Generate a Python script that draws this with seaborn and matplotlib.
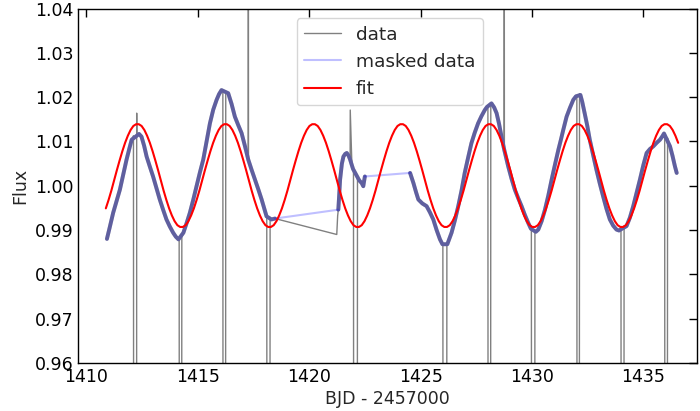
import numpy as np
import pandas as pd
import matplotlib
matplotlib.use("Agg")
import matplotlib.pyplot as plt
import seaborn as sns
from matplotlib.lines import Line2D
from matplotlib.ticker import FormatStrFormatter, MultipleLocator

# ---------------- data ----------------
# masked (out-of-eclipse) light curve, BJD - 2457000
masked_t = [
    1410.93, 1411.05, 1411.21, 1411.36, 1411.51, 1411.66, 1411.81, 1411.93, 1412.04, 1412.37,
    1412.48, 1412.60, 1412.71, 1412.85, 1413.00, 1413.15, 1413.30, 1413.45, 1413.60, 1413.75,
    1413.90, 1414.02, 1414.14, 1414.36, 1414.50, 1414.65, 1414.80, 1414.95, 1415.10, 1415.25,
    1415.40, 1415.55, 1415.70, 1415.85, 1415.96, 1416.07, 1416.37, 1416.52, 1416.67, 1416.82,
    1416.97, 1417.12, 1417.27, 1417.42, 1417.57, 1417.72, 1417.87, 1417.98, 1418.09, 1418.31,
    1418.47,
    1421.31, 1421.39, 1421.47, 1421.54, 1421.62, 1421.69, 1421.77, 1421.84, 1421.92, 1421.97,
    1422.25, 1422.36, 1422.43, 1422.50,
    1424.53, 1424.68, 1424.80, 1424.90, 1425.08, 1425.27, 1425.42, 1425.57, 1425.72, 1425.87,
    1425.98, 1426.20, 1426.39, 1426.54, 1426.69, 1426.84, 1426.98, 1427.13, 1427.28, 1427.43,
    1427.58, 1427.73, 1427.88, 1427.98, 1428.18, 1428.30, 1428.41, 1428.52, 1428.63, 1428.75,
    1428.93, 1429.08, 1429.23, 1429.38, 1429.53, 1429.68, 1429.83, 1429.95, 1430.17, 1430.28,
    1430.43, 1430.58, 1430.73, 1430.88, 1431.03, 1431.18, 1431.30, 1431.40, 1431.55, 1431.70,
    1431.85, 1431.97, 1432.17, 1432.25, 1432.36, 1432.48, 1432.59, 1432.74, 1432.89, 1433.04,
    1433.19, 1433.34, 1433.49, 1433.64, 1433.79, 1433.90, 1434.24, 1434.39, 1434.54, 1434.69,
    1434.84, 1434.99, 1435.14, 1435.29, 1435.44, 1435.59, 1435.74, 1435.85, 1435.92, 1436.19,
    1436.30, 1436.41, 1436.49,
]
masked_flux = [
    0.9880, 0.9905, 0.9939, 0.9965, 0.9991, 1.0025, 1.0059, 1.0083, 1.0104, 1.0117,
    1.0111, 1.0090, 1.0066, 1.0044, 1.0021, 0.9995, 0.9969, 0.9946, 0.9924, 0.9908,
    0.9894, 0.9885, 0.9879, 0.9894, 0.9915, 0.9939, 0.9968, 0.9999, 1.0030, 1.0059,
    1.0100, 1.0141, 1.0172, 1.0194, 1.0207, 1.0216, 1.0209, 1.0185, 1.0156, 1.0137,
    1.0119, 1.0090, 1.0059, 1.0036, 1.0014, 0.9992, 0.9969, 0.9950, 0.9931, 0.9924,
    0.9926,
    0.9946, 1.0014, 1.0050, 1.0066, 1.0072, 1.0074, 1.0068, 1.0059, 1.0046, 1.0038,
    1.0012, 1.0006, 0.9999, 1.0021,
    1.0029, 1.0006, 0.9985, 0.9969, 0.9960, 0.9954, 0.9940, 0.9924, 0.9900, 0.9879,
    0.9868, 0.9868, 0.9894, 0.9922, 0.9954, 0.9990, 1.0029, 1.0063, 1.0096, 1.0120,
    1.0141, 1.0157, 1.0171, 1.0178, 1.0186, 1.0177, 1.0164, 1.0140, 1.0111, 1.0082,
    1.0044, 1.0016, 0.9991, 0.9972, 0.9954, 0.9934, 0.9916, 0.9903, 0.9896, 0.9901,
    0.9920, 0.9946, 0.9978, 1.0014, 1.0048, 1.0081, 1.0105, 1.0126, 1.0156, 1.0176,
    1.0194, 1.0202, 1.0205, 1.0190, 1.0164, 1.0135, 1.0104, 1.0070, 1.0036, 1.0005,
    0.9976, 0.9948, 0.9924, 0.9910, 0.9901, 0.9899, 0.9909, 0.9928, 0.9954, 0.9984,
    1.0014, 1.0046, 1.0074, 1.0083, 1.0089, 1.0097, 1.0104, 1.0112, 1.0118, 1.0089,
    1.0068, 1.0044, 1.0029,
]

# eclipse ingress / egress points (bottoms are below the plotted range)
ecl_t = [
    1412.12, 1412.13, 1412.26, 1412.27,
    1414.17, 1414.18, 1414.28, 1414.29,
    1416.13, 1416.14, 1416.25, 1416.26,
    1418.10, 1418.11, 1418.24, 1418.25,
    1421.99, 1422.00, 1422.16, 1422.17,
    1426.00, 1426.01, 1426.17, 1426.18,
    1428.02, 1428.03, 1428.14, 1428.15,
    1429.97, 1429.98, 1430.12, 1430.13,
    1432.01, 1432.02, 1432.12, 1432.13,
    1433.99, 1434.00, 1434.12, 1434.13,
    1435.95, 1435.96, 1436.07, 1436.08,
]
ecl_flux = [
    1.0113, 0.90, 0.90, 1.0118,
    0.9880, 0.90, 0.90, 0.9884,
    1.0215, 0.90, 0.90, 1.0213,
    0.9930, 0.90, 0.90, 0.9923,
    1.0036, 0.90, 0.90, 1.0017,
    0.9866, 0.90, 0.90, 0.9866,
    1.0181, 0.90, 0.90, 1.0185,
    0.9902, 0.90, 0.90, 0.9896,
    1.0204, 0.90, 0.90, 1.0208,
    0.9900, 0.90, 0.90, 0.9904,
    1.0118, 0.90, 0.90, 1.0108,
]

# outlier spikes and the unmasked points after the data gap
spike_t = [1412.265, 1417.275, 1417.28, 1421.845, 1428.755, 1428.76]
spike_flux = [1.0164, 1.06, 1.0056, 1.0171, 1.06, 1.0080]
gap_t = [1421.24, 1421.28]
gap_flux = [0.9890, 0.9932]
# the raw data has missing (NaN) cadences here, so its line is broken
data_dropout_t = [1423.5]

# sinusoidal fit, sampled on an even time grid
fit_start, fit_end, fit_n = 1410.8805, 1436.5555, 209
fit_flux = [
    0.9949, 0.9968, 0.9989, 1.0012, 1.0035, 1.0057, 1.0078, 1.0097, 1.0113, 1.0126, 1.0135, 1.0139,
    1.0139, 1.0135, 1.0126, 1.0113, 1.0097, 1.0078, 1.0057, 1.0035, 1.0012, 0.9989, 0.9968, 0.9949, 0.9933, 0.9920, 0.9911, 0.9907,
    0.9907, 0.9911, 0.9920, 0.9933, 0.9949, 0.9968, 0.9989, 1.0012, 1.0035, 1.0057, 1.0078, 1.0097, 1.0113, 1.0126, 1.0135, 1.0139,
    1.0139, 1.0135, 1.0126, 1.0113, 1.0097, 1.0078, 1.0057, 1.0035, 1.0012, 0.9989, 0.9968, 0.9949, 0.9933, 0.9920, 0.9911, 0.9907,
    0.9907, 0.9911, 0.9920, 0.9933, 0.9949, 0.9968, 0.9989, 1.0012, 1.0035, 1.0057, 1.0078, 1.0097, 1.0113, 1.0126, 1.0135, 1.0139,
    1.0139, 1.0135, 1.0126, 1.0113, 1.0097, 1.0078, 1.0057, 1.0035, 1.0012, 0.9989, 0.9968, 0.9949, 0.9933, 0.9920, 0.9911, 0.9907,
    0.9907, 0.9911, 0.9920, 0.9933, 0.9949, 0.9968, 0.9989, 1.0012, 1.0035, 1.0057, 1.0078, 1.0097, 1.0113, 1.0126, 1.0135, 1.0139,
    1.0139, 1.0135, 1.0126, 1.0113, 1.0097, 1.0078, 1.0057, 1.0035, 1.0012, 0.9989, 0.9968, 0.9949, 0.9933, 0.9920, 0.9911, 0.9907,
    0.9907, 0.9911, 0.9920, 0.9933, 0.9949, 0.9968, 0.9989, 1.0012, 1.0035, 1.0057, 1.0078, 1.0097, 1.0113, 1.0126, 1.0135, 1.0139,
    1.0139, 1.0135, 1.0126, 1.0113, 1.0097, 1.0078, 1.0057, 1.0035, 1.0012, 0.9989, 0.9968, 0.9949, 0.9933, 0.9920, 0.9911, 0.9907,
    0.9907, 0.9911, 0.9920, 0.9933, 0.9949, 0.9968, 0.9989, 1.0012, 1.0035, 1.0057, 1.0078, 1.0097, 1.0113, 1.0126, 1.0135, 1.0139,
    1.0139, 1.0135, 1.0126, 1.0113, 1.0097, 1.0078, 1.0057, 1.0035, 1.0012, 0.9989, 0.9968, 0.9949, 0.9933, 0.9920, 0.9911, 0.9907,
    0.9907, 0.9911, 0.9920, 0.9933, 0.9949, 0.9968, 0.9989, 1.0012, 1.0035, 1.0057, 1.0078, 1.0097, 1.0113, 1.0126, 1.0135, 1.0139,
    1.0139, 1.0135, 1.0126, 1.0113, 1.0097,
]

x_ticks = [1410, 1415, 1420, 1425, 1430, 1435]
x_label = "BJD - 2457000"
y_label = "Flux"
legend_labels = ["data", "masked data", "fit"]

# ---------------- build tables ----------------
masked = pd.DataFrame({"t": masked_t, "flux": masked_flux})
data = pd.concat([
    masked,
    pd.DataFrame({"t": ecl_t, "flux": ecl_flux}),
    pd.DataFrame({"t": spike_t, "flux": spike_flux}),
    pd.DataFrame({"t": gap_t, "flux": gap_flux}),
], ignore_index=True).sort_values("t", kind="stable").reset_index(drop=True)
fit = pd.DataFrame({"t": np.linspace(fit_start, fit_end, fit_n), "flux": fit_flux})

# raw data pieces separated by the NaN dropouts
edges = [-np.inf] + list(data_dropout_t) + [np.inf]
data_pieces = [data[(data["t"] > a) & (data["t"] < b)] for a, b in zip(edges[:-1], edges[1:])]

# split masked data into continuous segments (gaps > 1 day)
breaks = np.where(np.diff(masked["t"].values) > 1.0)[0] + 1
seg_idx = np.split(np.arange(len(masked)), breaks)

# ---------------- plot ----------------
sns.set_style("white")
plt.rcParams["font.family"] = ["DejaVu Sans"]
fs = 12.5
fs_leg = 13.3

fig, ax = plt.subplots(figsize=(7.0, 4.11), dpi=100)
fig.subplots_adjust(left=0.112, right=0.9957, bottom=0.117, top=0.979)

data_color = "gray"
mask_color = "blue"
mask_alpha = 0.25
band_lw = 2.8

# data: thin line for everything (eclipses, gap), thicker band for the noisy continuous parts
for piece in data_pieces:
    sns.lineplot(data=piece, x="t", y="flux", sort=False, estimator=None,
                 color=data_color, linewidth=1.0, ax=ax, legend=False)
for idx in seg_idx:
    sns.lineplot(data=masked.iloc[idx], x="t", y="flux", sort=False, estimator=None,
                 color=data_color, linewidth=band_lw, ax=ax, legend=False)

# masked data: translucent band + thin connecting lines across gaps
for idx in seg_idx:
    sns.lineplot(data=masked.iloc[idx], x="t", y="flux", sort=False, estimator=None,
                 color=mask_color, alpha=mask_alpha, linewidth=band_lw, ax=ax, legend=False)
for b in breaks:
    sns.lineplot(data=masked.iloc[[b - 1, b]], x="t", y="flux", sort=False, estimator=None,
                 color=mask_color, alpha=mask_alpha, linewidth=1.5, ax=ax, legend=False)

# fit
sns.lineplot(data=fit, x="t", y="flux", sort=False, estimator=None,
             color="red", linewidth=1.5, ax=ax, legend=False)

ax.set_xlim(1409.65, 1437.4)
ax.set_ylim(0.96, 1.04)
ax.set_xticks(x_ticks)
ax.yaxis.set_major_locator(MultipleLocator(0.01))
ax.yaxis.set_major_formatter(FormatStrFormatter("%.2f"))
ax.tick_params(direction="in", top=True, right=True, length=6, width=1,
               labelsize=fs, colors="black")
for s in ax.spines.values():
    s.set_color("black")
    s.set_linewidth(1.0)
ax.set_xlabel(x_label, fontsize=fs, labelpad=3)
ax.set_ylabel(y_label, fontsize=fs)

handles = [
    Line2D([], [], color=data_color, linewidth=1.0),
    Line2D([], [], color=mask_color, alpha=mask_alpha, linewidth=1.5),
    Line2D([], [], color="red", linewidth=1.5),
]
ax.legend(handles, legend_labels, loc="upper left", bbox_to_anchor=(0.353, 0.973),
          borderaxespad=0, fontsize=fs_leg, frameon=True)

fig.savefig("out.png", dpi=100)
